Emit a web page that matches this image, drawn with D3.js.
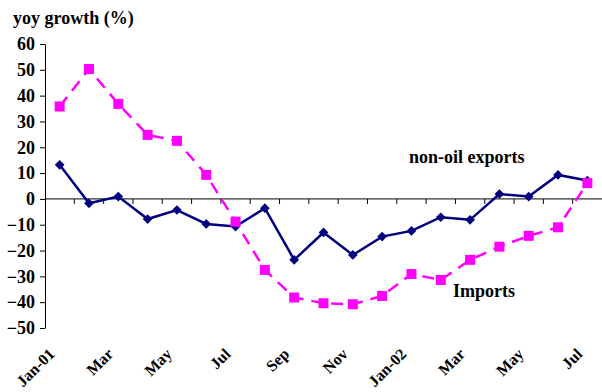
<!DOCTYPE html>
<html>
<head>
<meta charset="utf-8">
<script src="https://cdn.jsdelivr.net/npm/d3@7"></script>
<style>
  html, body { margin: 0; padding: 0; background: #fff; }
  svg { display: block; }
  text { font-family: "Liberation Serif", "Times New Roman", serif; font-weight: bold; fill: #000; }
</style>
</head>
<body>
<svg id="chart" width="602" height="392"></svg>
<script>
// Monthly categories, Jan 2001 to Jul 2002
const months = ["Jan-01","Feb","Mar","Apr","May","Jun","Jul","Aug","Sep","Oct","Nov","Dec",
                "Jan-02","Feb","Mar","Apr","May","Jun","Jul"];
// Labels shown on the category axis (every second month)
const shownLabels = ["Jan-01","Mar","May","Jul","Sep","Nov","Jan-02","Mar","May","Jul"];
// Year-on-year growth, percent
const nonOilExports = [13.2,-1.7,0.9,-7.8,-4.3,-9.7,-10.7,-3.6,-23.6,-13.0,-21.7,-14.6,
                       -12.4,-7.1,-8.1,1.9,0.9,9.3,7.1];
const imports = [35.8,50.3,36.8,24.8,22.5,9.3,-8.8,-27.5,-38.2,-40.4,-40.8,-37.6,
                 -29.1,-31.4,-23.6,-18.5,-14.3,-11.0,6.1];
const yTicks = [60,50,40,30,20,10,0,-10,-20,-30,-40,-50];

const svg = d3.select("#chart");
const plotLeft = 45, plotRight = 602, plotTop = 44, plotBottom = 328;

const idx = d3.range(months.length);
const x = d3.scaleBand().domain(idx).range([plotLeft, plotRight]);
const y = d3.scaleLinear().domain([-50, 60]).range([plotBottom, plotTop]);
const cx = i => x(i) + x.bandwidth() / 2;

// y axis
const yAxis = svg.append("g")
  .attr("transform", `translate(${plotLeft},0)`)
  .call(d3.axisLeft(y).tickValues(yTicks).tickSize(5).tickSizeOuter(0).tickPadding(5));
yAxis.select(".domain").attr("stroke", "#000").attr("stroke-width", 1);
yAxis.selectAll(".tick line").attr("stroke", "#000");
yAxis.selectAll(".tick text")
  .style("font-size", "18px").style("font-family", "Liberation Serif, serif")
  .style("font-weight", "bold").attr("fill", "#000");

// x axis along zero, ticks at month boundaries
const bounds = d3.range(1, months.length).map(i => x(i));
svg.append("line")
  .attr("x1", plotLeft).attr("x2", plotRight)
  .attr("y1", y(0)).attr("y2", y(0))
  .attr("stroke", "#000").attr("stroke-width", 1);
svg.append("g").selectAll("line").data(bounds).join("line")
  .attr("x1", d => d).attr("x2", d => d)
  .attr("y1", y(0)).attr("y2", y(0) + 5)
  .attr("stroke", "#000").attr("stroke-width", 1);

// rotated month labels
svg.append("g").selectAll("text")
  .data(idx.filter(i => i % 2 === 0))
  .join("text")
  .attr("transform", i => `translate(${cx(i) - 4},${355}) rotate(-45)`)
  .attr("text-anchor", "end")
  .style("font-size", "16px")
  .text((i, k) => shownLabels[k]);

// axis title
svg.append("text").attr("x", 13).attr("y", 24).style("font-size", "18px").text("yoy growth (%)");

const line = d3.line().x((d, i) => cx(i)).y(d => y(d));

// non-oil exports: solid navy with diamonds
svg.append("path").datum(nonOilExports)
  .attr("d", line).attr("fill", "none")
  .attr("stroke", "#000080").attr("stroke-width", 2.5);
svg.append("g").selectAll("path").data(nonOilExports).join("path")
  .attr("d", d3.symbol().type(d3.symbolDiamond2).size(60))
  .attr("transform", (d, i) => `translate(${cx(i)},${y(d)})`)
  .attr("fill", "#000080");

// imports: dashed magenta with squares, drawn above exports
svg.append("path").datum(imports)
  .attr("d", line).attr("fill", "none")
  .attr("stroke", "#ff00ff").attr("stroke-width", 2.5)
  .attr("stroke-dasharray", "12,8");
svg.append("g").selectAll("rect").data(imports).join("rect")
  .attr("x", (d, i) => cx(i) - 5).attr("y", d => y(d) - 5)
  .attr("width", 10).attr("height", 10).attr("fill", "#ff00ff");

// series labels
svg.append("text").attr("x", 409).attr("y", 163).style("font-size", "18px").text("non-oil exports");
svg.append("text").attr("x", 453).attr("y", 297).style("font-size", "18px").text("Imports");
</script>
</body>
</html>
